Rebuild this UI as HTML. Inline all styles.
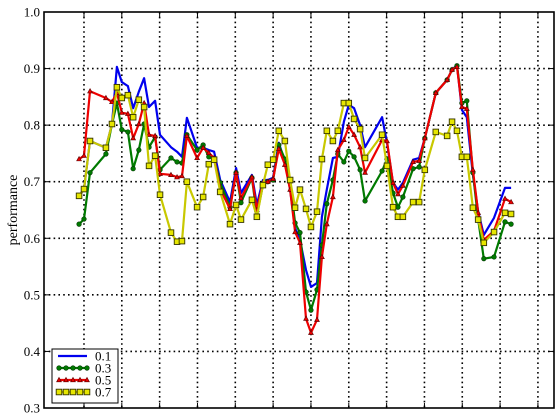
<!DOCTYPE html>
<html><head><meta charset="utf-8"><style>
html,body{margin:0;padding:0;background:#fff;}
svg{display:block;font-family:"Liberation Serif",serif;}
</style></head><body>
<svg id="chart" width="560" height="416" viewBox="0 0 560 416" xmlns="http://www.w3.org/2000/svg">
<rect x="0" y="0" width="560" height="416" fill="#fff"/>
<g id="grid"></g>
<g id="series"></g>
<rect x="44" y="12" width="510" height="396" fill="none" stroke="#000" stroke-width="1.6"/>
<g id="yaxis"></g>
<text x="17" y="210" font-size="14" text-anchor="middle" transform="rotate(-90 17 210)">performance</text>
<g id="legend"></g>
</svg>
<script>
const xValues=[0.87,1.00,1.16,1.58,1.74,1.87,2.00,2.16,2.30,2.45,2.59,2.72,2.88,3.01,3.30,3.46,3.59,3.72,3.99,4.15,4.30,4.44,4.60,4.86,5.02,5.15,5.44,5.57,5.73,5.86,6.00,6.15,6.31,6.45,6.58,6.71,6.87,7.00,7.16,7.29,7.42,7.58,7.71,7.87,8.00,8.14,8.30,8.43,8.88,9.01,9.17,9.30,9.43,9.70,9.86,10.01,10.30,10.60,10.73,10.86,10.99,11.12,11.28,11.42,11.57,11.84,12.13,12.29];
const s01=[0.675,0.687,0.772,0.760,0.802,0.903,0.876,0.869,0.830,0.859,0.883,0.832,0.843,0.783,0.761,0.753,0.744,0.813,0.760,0.760,0.756,0.753,0.703,0.664,0.724,0.680,0.712,0.659,0.703,0.703,0.707,0.769,0.735,0.686,0.618,0.597,0.544,0.514,0.521,0.638,0.686,0.742,0.744,0.806,0.836,0.830,0.800,0.761,0.814,0.769,0.698,0.686,0.698,0.739,0.742,0.777,0.857,0.880,0.898,0.906,0.827,0.814,0.712,0.647,0.606,0.636,0.689,0.689];
const s03=[0.625,0.634,0.716,0.749,0.802,0.839,0.792,0.788,0.723,0.756,0.802,0.761,0.779,0.721,0.742,0.735,0.733,0.783,0.756,0.765,0.744,0.740,0.698,0.655,0.716,0.663,0.707,0.641,0.694,0.700,0.703,0.765,0.740,0.700,0.627,0.610,0.505,0.473,0.509,0.588,0.661,0.703,0.749,0.735,0.754,0.744,0.721,0.666,0.719,0.740,0.680,0.655,0.673,0.723,0.726,0.777,0.857,0.880,0.898,0.905,0.839,0.843,0.716,0.633,0.564,0.567,0.629,0.625];
const s05=[0.740,0.746,0.860,0.848,0.841,0.857,0.822,0.820,0.777,0.802,0.839,0.783,0.781,0.714,0.712,0.708,0.710,0.781,0.742,0.760,0.751,0.742,0.687,0.652,0.716,0.671,0.708,0.650,0.698,0.700,0.705,0.758,0.730,0.686,0.611,0.592,0.458,0.433,0.456,0.567,0.625,0.673,0.756,0.774,0.797,0.783,0.761,0.716,0.774,0.772,0.698,0.678,0.693,0.735,0.737,0.777,0.857,0.880,0.898,0.903,0.832,0.829,0.721,0.645,0.597,0.613,0.670,0.664];
const s07=[0.675,0.687,0.772,0.760,0.802,0.867,0.848,0.853,0.814,0.845,0.832,0.728,0.746,0.677,0.610,0.594,0.595,0.700,0.655,0.673,0.731,0.739,0.682,0.625,0.659,0.633,0.668,0.638,0.694,0.730,0.739,0.790,0.772,0.703,0.654,0.686,0.652,0.620,0.647,0.740,0.790,0.772,0.790,0.839,0.839,0.811,0.793,0.742,0.783,0.728,0.655,0.638,0.638,0.664,0.664,0.721,0.788,0.781,0.806,0.790,0.744,0.744,0.654,0.633,0.592,0.611,0.645,0.643];
const yTicks=[0.3,0.4,0.5,0.6,0.7,0.8,0.9,1.0];
const yTickLabels=["0.3","0.4","0.5","0.6","0.7","0.8","0.9","1.0"];
const xGrid=[1,2,3,4,5,6,7,8,9,10,11,12,13];
const legendLabels=["0.1","0.3","0.5","0.7"];

const NS="http://www.w3.org/2000/svg";
const L=44,R=554,T=12,B=408;
const X0=-0.057,X1=13.425,Y0=0.3,Y1=1.0;
function xs(u){return L+(u-X0)/(X1-X0)*(R-L);}
function ys(v){return B-(v-Y0)/(Y1-Y0)*(B-T);}
function mk(tag,attrs,parent){const e=document.createElementNS(NS,tag);for(const k in attrs)e.setAttribute(k,attrs[k]);parent.appendChild(e);return e;}

const grid=document.getElementById('grid');
xGrid.forEach(u=>{const x=xs(u);
 const g=mk('line',{x1:x,y1:T,x2:x,y2:B,stroke:'#000','stroke-width':1.6,'stroke-dasharray':'1.6,3.2'},grid);
 
 
 const t1=mk('line',{x1:x,y1:B,x2:x,y2:B-5,stroke:'#000','stroke-width':1},grid);
 
 
 const t2=mk('line',{x1:x,y1:T,x2:x,y2:T+5,stroke:'#000','stroke-width':1},grid);
 
 
});
const yax=document.getElementById('yaxis');
yTicks.forEach((v,i)=>{const y=ys(v);
 if(i>0&&i<yTicks.length-1){const g=mk('line',{x1:L,y1:y,x2:R,y2:y,stroke:'#000','stroke-width':1.6,'stroke-dasharray':'1.6,3.2'},grid);
 
 }
 const t=mk('line',{x1:L,y1:y,x2:L+5,y2:y,stroke:'#000','stroke-width':1},yax);
 
 
 const t2=mk('line',{x1:R,y1:y,x2:R-5,y2:y,stroke:'#000','stroke-width':1},yax);
 
 
 const lb=mk('text',{x:L-4,y:y+4.5,'font-size':13,'text-anchor':'end'},yax);
 lb.textContent=yTickLabels[i];
 
 
});

const sg=document.getElementById('series');
const defs=[
 {d:s01,color:'#0000ee',marker:'none',name:'series-0-1'},
 {d:s03,color:'#007a00',marker:'circle',name:'series-0-3'},
 {d:s05,color:'#ee0000',marker:'tri',name:'series-0-5'},
 {d:s07,color:'#c8c800',marker:'square',name:'series-0-7'}];
function marker(type,x,y,color,parent){
 let m=null;
 if(type==='circle'){m=mk('circle',{cx:x,cy:y,r:2.3,fill:color,stroke:'#003300','stroke-width':0.6},parent);}
 else if(type==='tri'){m=mk('polygon',{points:`${x},${y-2.6} ${x-2.4},${y+1.8} ${x+2.4},${y+1.8}`,fill:color,stroke:'#550000','stroke-width':0.6},parent);}
 else if(type==='square'){m=mk('rect',{x:x-2.8,y:y-2.8,width:5.6,height:5.6,fill:'#e6e600',stroke:'#333300','stroke-width':0.9},parent);}
 return m;
}
defs.forEach(s=>{
 const g=mk('g',{},sg);
 
 
 const pts=s.d.map((v,i)=>xs(xValues[i]).toFixed(1)+','+ys(v).toFixed(1)).join(' ');
 const pl=mk('polyline',{points:pts,fill:'none',stroke:s.color,'stroke-width':2.2,'stroke-linejoin':'round'},g);
 
 
 if(s.marker!=='none'){s.d.forEach((v,i)=>{const m=marker(s.marker,xs(xValues[i]),ys(v),s.color,g);
  
  });}
});

const lg=document.getElementById('legend');
const box=mk('rect',{x:52,y:349,width:66,height:54,fill:'#fff',stroke:'#000','stroke-width':1},lg);


defs.forEach((s,i)=>{const y=356+i*12;
 const e=mk('g',{},lg);
 
 
 mk('line',{x1:58,y1:y,x2:87,y2:y,stroke:s.color,'stroke-width':2.2},e);
 if(s.marker!=='none'){[59,66,73,80,87].forEach(mx=>{marker(s.marker,mx,y,s.color,e);});}
 const t=mk('text',{x:95,y:y+4.5,'font-size':13},e);
 t.textContent=legendLabels[i];
});
</script>
</body></html>
